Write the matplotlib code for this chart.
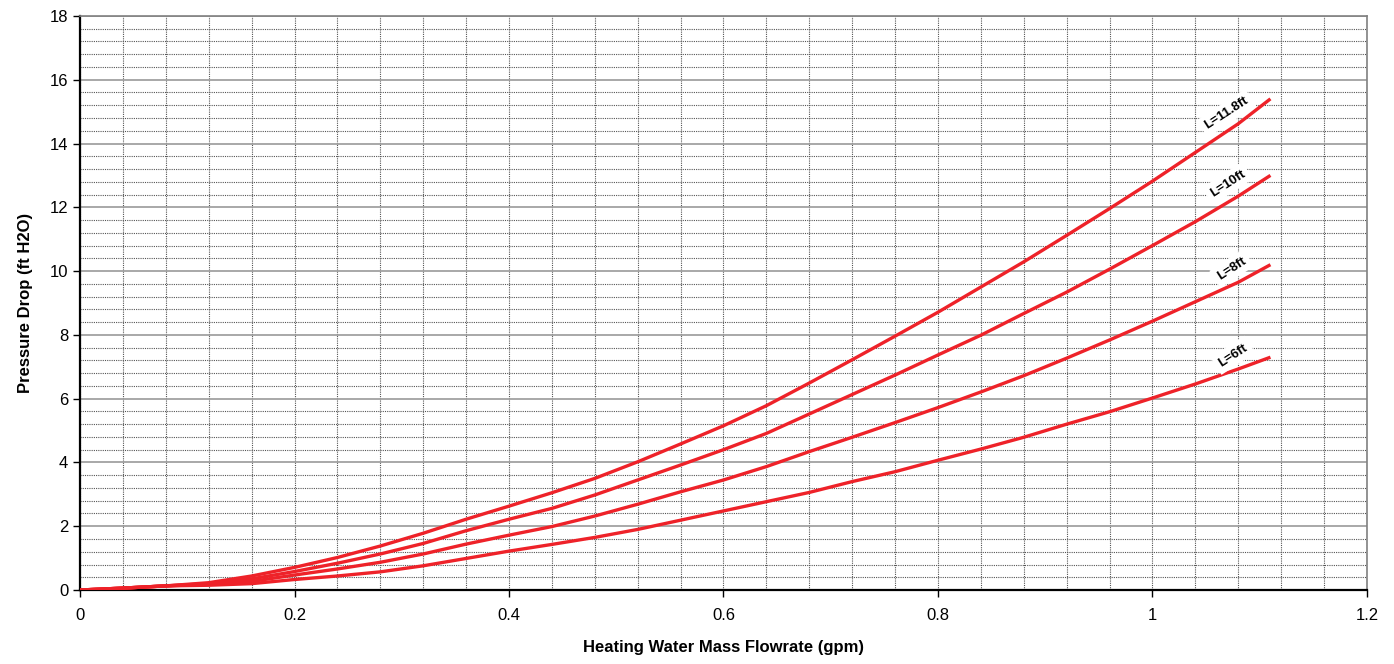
import numpy as np
import matplotlib
matplotlib.use("Agg")
import matplotlib.pyplot as plt
from matplotlib.ticker import MultipleLocator

plt.rcParams['font.family'] = ['Liberation Sans', 'DejaVu Sans']

# flowrate (gpm)
flow = [0, 0.04, 0.08, 0.12, 0.16, 0.2, 0.24, 0.28, 0.32, 0.36, 0.4, 0.44, 0.48, 0.52, 0.56,
        0.6, 0.64, 0.68, 0.72, 0.76, 0.8, 0.84, 0.88, 0.92, 0.96, 1.0, 1.04, 1.08, 1.11]

# pressure drop (ft H2O) per hose length
dp_118 = [0, 0.06, 0.13, 0.23, 0.44, 0.71, 1.02, 1.38, 1.78, 2.22, 2.63, 3.05, 3.5, 4.02, 4.58,
          5.15, 5.78, 6.49, 7.22, 7.96, 8.71, 9.5, 10.29, 11.12, 11.96, 12.82, 13.72, 14.62, 15.4]
dp_10 = [0, 0.06, 0.13, 0.2, 0.35, 0.58, 0.84, 1.13, 1.46, 1.86, 2.22, 2.56, 2.98, 3.45, 3.92,
         4.4, 4.91, 5.52, 6.13, 6.74, 7.37, 7.99, 8.67, 9.34, 10.06, 10.8, 11.55, 12.35, 13.0]
dp_8 = [0, 0.06, 0.13, 0.18, 0.27, 0.47, 0.66, 0.87, 1.13, 1.44, 1.72, 1.99, 2.32, 2.69, 3.08,
        3.45, 3.87, 4.34, 4.79, 5.25, 5.72, 6.21, 6.72, 7.27, 7.84, 8.43, 9.04, 9.65, 10.2]
dp_6 = [0, 0.06, 0.13, 0.15, 0.2, 0.33, 0.44, 0.57, 0.76, 0.99, 1.22, 1.43, 1.65, 1.9, 2.19,
        2.48, 2.77, 3.06, 3.4, 3.71, 4.07, 4.42, 4.79, 5.2, 5.59, 6.02, 6.46, 6.93, 7.3]

series = [("L=11.8ft", dp_118), ("L=10ft", dp_10), ("L=8ft", dp_8), ("L=6ft", dp_6)]
# label anchor points (x, y)
label_x = [1.069, 1.07, 1.074, 1.075]
label_y = [14.95, 12.75, 10.08, 7.36]

fig = plt.figure(figsize=(13.94, 6.64), dpi=100)
ax = fig.add_axes([0.0574, 0.1114, 0.9232, 0.8646])

ax.set_xlim(0, 1.2)
ax.set_ylim(0, 18)
ax.xaxis.set_major_locator(MultipleLocator(0.2))
ax.xaxis.set_minor_locator(MultipleLocator(0.04))
ax.yaxis.set_major_locator(MultipleLocator(2))
ax.yaxis.set_minor_locator(MultipleLocator(0.4))

ax.grid(which='minor', axis='both', color='#555555', linestyle=(0, (1, 1)), linewidth=0.8)
ax.grid(which='major', axis='x', color='#555555', linestyle=(0, (1, 1)), linewidth=0.8)
ax.grid(which='major', axis='y', color='#9a9a9a', linestyle='-', linewidth=1.2)
ax.set_axisbelow(True)

for name, dp in series:
    ax.plot(flow, dp, color='#ee2229', linewidth=2.4, solid_capstyle='butt', zorder=3)

for (name, dp), lx, ly in zip(series, label_x, label_y):
    ax.text(lx, ly, name, rotation=33, fontsize=9.5, fontweight='bold',
            ha='center', va='center', zorder=4,
            bbox=dict(facecolor='white', edgecolor='none', pad=3))

ax.tick_params(which='major', direction='out', length=5, width=1, labelsize=12, colors='black')
ax.tick_params(which='minor', length=0)
ax.tick_params(axis='x', pad=8)
ax.set_xticks([0, 0.2, 0.4, 0.6, 0.8, 1.0, 1.2])
ax.set_xticklabels(['0', '0.2', '0.4', '0.6', '0.8', '1', '1.2'])

for s in ['left', 'bottom']:
    ax.spines[s].set_color('black')
    ax.spines[s].set_linewidth(1.6)
for s in ['top', 'right']:
    ax.spines[s].set_color('#808080')
    ax.spines[s].set_linewidth(1.2)

ax.set_xlabel('Heating Water Mass Flowrate (gpm)', fontsize=12, fontweight='bold', labelpad=12)
ax.set_ylabel('Pressure Drop (ft H2O)', fontsize=12, fontweight='bold', labelpad=12)

fig.savefig('out.png', dpi=100)
